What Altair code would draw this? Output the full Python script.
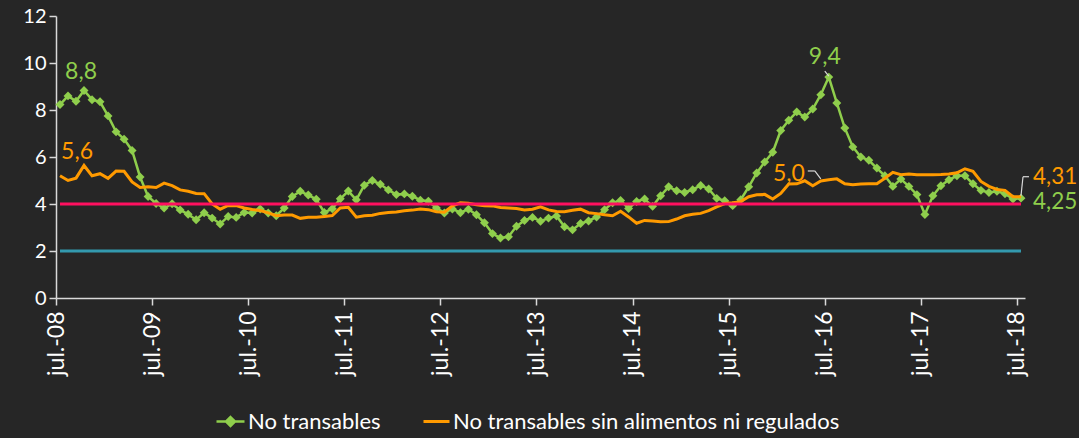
import altair as alt
import pandas as pd
import jinja2

months = pd.date_range("2008-07-01", "2018-07-01", freq="MS").strftime("%Y-%m").tolist()

no_transables = [
    8.23, 8.6, 8.37, 8.83, 8.44, 8.35, 7.75, 7.07, 6.76, 6.28, 5.15, 4.32,
    4.02, 3.83, 4.01, 3.75, 3.56, 3.33, 3.63, 3.4, 3.15, 3.47, 3.43, 3.64,
    3.62, 3.79, 3.62, 3.50, 3.83, 4.32, 4.54, 4.38, 4.2, 3.64, 3.8, 4.22,
    4.55, 4.18, 4.8, 5.0, 4.84, 4.6, 4.4, 4.43, 4.33, 4.16, 4.12, 3.83,
    3.62, 3.79, 3.63, 3.78, 3.54, 3.2, 2.74, 2.55, 2.61, 3.05, 3.30, 3.43,
    3.27, 3.40, 3.49, 3.03, 2.9, 3.17, 3.28, 3.45, 3.76, 4.05, 4.15, 3.81,
    4.11, 4.21, 3.90, 4.35, 4.73, 4.56, 4.49, 4.61, 4.79, 4.64, 4.24, 4.14,
    3.93, 4.18, 4.73, 5.32, 5.79, 6.2, 7.13, 7.56, 7.92, 7.7, 8.04, 8.65,
    9.40, 8.30, 7.23, 6.43, 6.0, 5.86, 5.53, 5.2, 4.75, 5.06, 4.75, 4.40,
    3.55, 4.35, 4.78, 5.03, 5.2, 5.2, 4.86, 4.58, 4.49, 4.54, 4.44, 4.21,
    4.25,
]

no_transables_sin = [
    5.2, 5.0, 5.1, 5.64, 5.2, 5.29, 5.09, 5.4, 5.39, 4.94, 4.7, 4.73,
    4.7, 4.89, 4.78, 4.6, 4.54, 4.45, 4.44, 4.0, 3.78, 3.94, 3.93, 3.83,
    3.77, 3.72, 3.62, 3.5, 3.53, 3.53, 3.39, 3.44, 3.44, 3.47, 3.51, 3.83,
    3.86, 3.44, 3.5, 3.52, 3.6, 3.64, 3.66, 3.71, 3.74, 3.79, 3.76, 3.67,
    3.65, 3.92, 4.05, 4.03, 3.97, 3.93, 3.92, 3.85, 3.83, 3.81, 3.75, 3.78,
    3.88, 3.75, 3.68, 3.67, 3.73, 3.78, 3.63, 3.59, 3.54, 3.5, 3.69, 3.45,
    3.18, 3.3, 3.28, 3.24, 3.25, 3.36, 3.5, 3.56, 3.6, 3.72, 3.88, 4.02,
    4.05, 4.1, 4.31, 4.39, 4.41, 4.21, 4.45, 4.85, 4.86, 4.99, 4.78, 4.98,
    5.03, 5.07, 4.86, 4.82, 4.85, 4.86, 4.86, 5.1, 5.35, 5.25, 5.28, 5.25,
    5.25, 5.25, 5.26, 5.28, 5.33, 5.5, 5.39, 4.96, 4.75, 4.62, 4.58, 4.31,
    4.31,
]

meta_superior = 4.0
meta_inferior = 2.0

series_names = ["No transables", "No transables sin alimentos ni regulados"]
y_ticks = [0, 2, 4, 6, 8, 10, 12]

BG = "#262626"
GREEN = "#8fce4c"
ORANGE = "#ff9a00"
RED = "#ff1060"
TEAL = "#3399ae"
LEADER = "#d9d9d9"
FONT = "Lato"

# Page template: same CDN scripts as Altair's standard one, dark page, no margin.
PAGE = """<!DOCTYPE html>
<html>
<head>
  <meta charset="utf-8">
  <style>
    html, body { margin: 0; padding: 0; background: %s; overflow: hidden; }
    #{{ output_div }}.vega-embed { width: 100%%; display: flex; }
    #{{ output_div }}.vega-embed details,
    #{{ output_div }}.vega-embed details summary { position: relative; }
  </style>
  <script type="text/javascript" src="{{ base_url }}/vega@{{ vega_version }}"></script>
  <script type="text/javascript" src="{{ base_url }}/vega-lite@{{ vegalite_version }}"></script>
  <script type="text/javascript" src="{{ base_url }}/vega-embed@{{ vegaembed_version }}"></script>
</head>
<body>
  <div id="{{ output_div }}"></div>
  <script>
    var spec = {{ spec }};
    var embedOpt = {{ embed_options }};
    vegaEmbed("#{{ output_div }}", spec, embedOpt).catch(function (e) {
      document.getElementById("{{ output_div }}").innerHTML = String(e);
    });
  </script>
</body>
</html>
""" % BG

MARGIN = 8
try:
    import altair.utils.html as _alt_html
    _tpl = jinja2.Template(PAGE)
    for _k in ("standard", "universal"):
        if _k in _alt_html.TEMPLATES:
            _alt_html.TEMPLATES[_k] = _tpl
    MARGIN = 0
except Exception:
    MARGIN = 8

n = len(months)
df = pd.DataFrame({
    "mes": months,
    "pos": [i + 0.5 for i in range(n)],
    "nt": no_transables,
    "nts": no_transables_sin,
    "meta_sup": [meta_superior] * n,
    "meta_inf": [meta_inferior] * n,
})
df["serie_nt"] = series_names[0]
df["serie_nts"] = series_names[1]

x_enc = alt.X(
    "pos:Q",
    scale=alt.Scale(domain=[0, n], nice=False, zero=False),
    axis=alt.Axis(
        values=list(range(0, n, 12)),
        labelExpr="'jul.-' + slice('0' + (8 + datum.value / 12), -2)",
        labelAngle=-90,
        labelPadding=6,
        labelFontSize=23,
        title=None,
        grid=False,
    ),
)


def yenc(field):
    return alt.Y(
        f"{field}:Q",
        scale=alt.Scale(domain=[0, 12], nice=False),
        axis=alt.Axis(values=y_ticks, title=None, grid=False, labelPadding=3),
    )


base = alt.Chart(df)

teal_line = base.mark_line(color=TEAL, strokeWidth=3).encode(x=x_enc, y=yenc("meta_inf"))
green_line = base.mark_line(color=GREEN, strokeWidth=2.5).encode(x=x_enc, y=yenc("nt"))
green_pts = base.mark_point(shape="diamond", filled=True, size=80, opacity=1).encode(
    x=x_enc,
    y=yenc("nt"),
    color=alt.Color(
        "serie_nt:N",
        scale=alt.Scale(domain=[series_names[0]], range=[GREEN]),
        legend=alt.Legend(
            orient="none", legendX=159, legendY=390, title=None, padding=0,
            symbolType="M-1,0L1,0M0,-0.32L0.32,0L0,0.32L-0.32,0Z",
            symbolSize=784, symbolStrokeColor=GREEN, symbolStrokeWidth=2.5,
            symbolFillColor=GREEN, labelOffset=2,
        ),
    ),
)
orange_line = base.mark_line(strokeWidth=3).encode(
    x=x_enc,
    y=yenc("nts"),
    stroke=alt.Stroke(
        "serie_nts:N",
        scale=alt.Scale(domain=[series_names[1]], range=[ORANGE]),
        legend=alt.Legend(
            orient="none", legendX=366, legendY=391, title=None, padding=0,
            symbolType="stroke", symbolSize=676, symbolStrokeWidth=3,
            labelOffset=2,
        ),
    ),
)
red_line = base.mark_line(color=RED, strokeWidth=3).encode(x=x_enc, y=yenc("meta_sup"))


def fmt(v, d):
    return f"{v:.{d}f}".replace(".", ",")


def label(field, idx, decimals, color, align, dx, dy, size=23):
    row = df.iloc[[idx]].copy()
    row["txt"] = fmt(row[field].iloc[0], decimals)
    return alt.Chart(row).mark_text(
        color=color, font=FONT, fontSize=size, align=align, baseline="alphabetic", dx=dx, dy=dy
    ).encode(x=x_enc, y=yenc(field), text="txt:N")


def leader(field, idx, x0, y0, x1, y1):
    # short connector drawn relative to the labelled data point (pixel offsets)
    row = df.iloc[[idx]]
    return alt.Chart(row).mark_rule(
        color=LEADER, strokeWidth=1.2, xOffset=x0, yOffset=y0, x2Offset=x1, y2Offset=y1
    ).encode(x=x_enc, y=yenc(field), x2="pos:Q", y2=f"{field}:Q")


i_max1 = max(range(12), key=lambda i: no_transables[i])
i_max2 = max(range(n), key=lambda i: no_transables[i])
i_omax1 = max(range(12), key=lambda i: no_transables_sin[i])
i_jun16 = months.index("2016-06")

labels = [
    label("nt", i_max1, 1, GREEN, "center", -3, -11),
    label("nts", i_omax1, 1, ORANGE, "center", -7, -6),
    label("nt", i_max2, 1, GREEN, "center", -4, -13),
    label("nts", i_jun16, 1, ORANGE, "right", -16, 0),
    label("nts", n - 1, 2, ORANGE, "left", 12, -13, 22.5),
    label("nt", n - 1, 2, GREEN, "left", 12, 11, 22.5),
]

leaders = [
    leader("nt", i_max2, -4, -6, 0, -1),
    leader("nts", i_jun16, -13, -10, -6, -10),
    leader("nts", i_jun16, -6, -10, 0, -2),
    leader("nts", n - 1, 8, -20, 2, -20),
    leader("nts", n - 1, 2, -20, 0, -1),
]

PAGE_W, PAGE_H = 1079, 438
LEFT, TOP, W, H = 56, 16, 969, 282
pad = {
    "left": LEFT - MARGIN,
    "top": TOP - MARGIN,
    "right": PAGE_W - 2 * MARGIN - (LEFT - MARGIN) - W,
    "bottom": PAGE_H - 2 * MARGIN - (TOP - MARGIN) - H,
}

chart = alt.layer(
    teal_line, green_line, green_pts, orange_line, red_line, *leaders, *labels
).resolve_scale(
    color="independent", stroke="independent"
).properties(
    width=W,
    height=H,
    background=BG,
    padding=pad,
    autosize=alt.AutoSizeParams(type="none"),
).configure_view(stroke=None).configure_axis(
    domainColor="#d9d9d9",
    domainWidth=1.5,
    tickColor="#d9d9d9",
    tickSize=7,
    tickWidth=1.5,
    labelColor="#ffffff",
    labelFont=FONT,
    labelFontSize=20,
).configure_legend(
    labelColor="#ffffff",
    labelFont=FONT,
    labelFontSize=22,
    labelLimit=600,
)

chart.save("out.html", embed_options={"renderer": "svg", "actions": False})
